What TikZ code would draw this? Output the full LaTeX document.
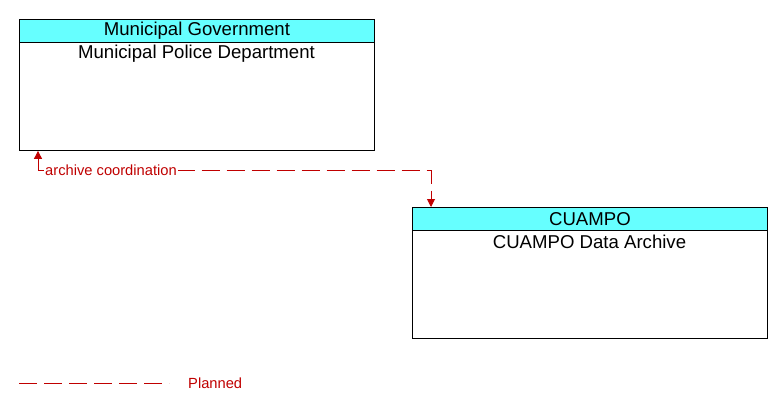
\documentclass[tikz,border=0pt]{standalone}
\usepackage{fontspec}
\setmainfont{Liberation Sans}
\usetikzlibrary{arrows.meta,positioning}
\definecolor{hdrcyan}{RGB}{102,255,255}
\definecolor{flowred}{RGB}{192,0,0}
\tikzset{
  hdr/.style={draw=black, line width=0.9pt, fill=hdrcyan, minimum width=355pt, minimum height=23pt, inner sep=0pt, font=\fontsize{18.6pt}{20pt}\selectfont},
  bodybox/.style={draw=black, line width=0.9pt, fill=white, minimum width=355pt, minimum height=108pt, inner sep=0pt},
  bodytxt/.style={inner sep=0pt, font=\fontsize{18.6pt}{20pt}\selectfont},
  conn/.style={draw=flowred, line width=0.9pt, dash pattern=on 18pt off 7pt, arrows={Triangle[width=8pt,length=8pt]-Triangle[width=8pt,length=8pt]}},
  flowlbl/.style={fill=white, text=flowred, inner sep=1pt, font=\fontsize{14.7pt}{16pt}\selectfont},
  legline/.style={draw=flowred, line width=0.9pt, dash pattern=on 18pt off 7pt},
  legtxt/.style={text=flowred, inner sep=0pt, font=\fontsize{14.7pt}{16pt}\selectfont}
}
\begin{document}
\begin{tikzpicture}[x=1pt,y=-1pt]
\useasboundingbox (0,0) rectangle (783,412);
% Municipal box
\node[bodybox, anchor=north west] (mpd) at (19,42) {};
\node[hdr, anchor=north west] (mgh) at (19,19) {Municipal Government};
\node[bodytxt] (mpdt) at (196.5,53.5) {Municipal Police Department};
% CUAMPO box
\node[bodybox, anchor=north west] (cda) at (412,230) {};
\node[hdr, anchor=north west] (cuah) at (412,207) {CUAMPO};
\node[bodytxt] (cdat) at (589.5,241.5) {CUAMPO Data Archive};
% connector
\coordinate (p1) at (431,170);
\coordinate (p2) at (38,170);
\draw[conn] (mpd.south -| p2) -- (p2) -- (p1) -- (cuah.north -| p1);
\node[flowlbl, anchor=west] (lbl) at (44,170) {archive coordination};
% legend
\coordinate (l1) at (19,383);
\coordinate (l2) at (169,383);
\draw[legline] (l1) -- (l2);
\node[legtxt, anchor=west] (leg) at (188,383) {Planned};
\end{tikzpicture}
\end{document}
